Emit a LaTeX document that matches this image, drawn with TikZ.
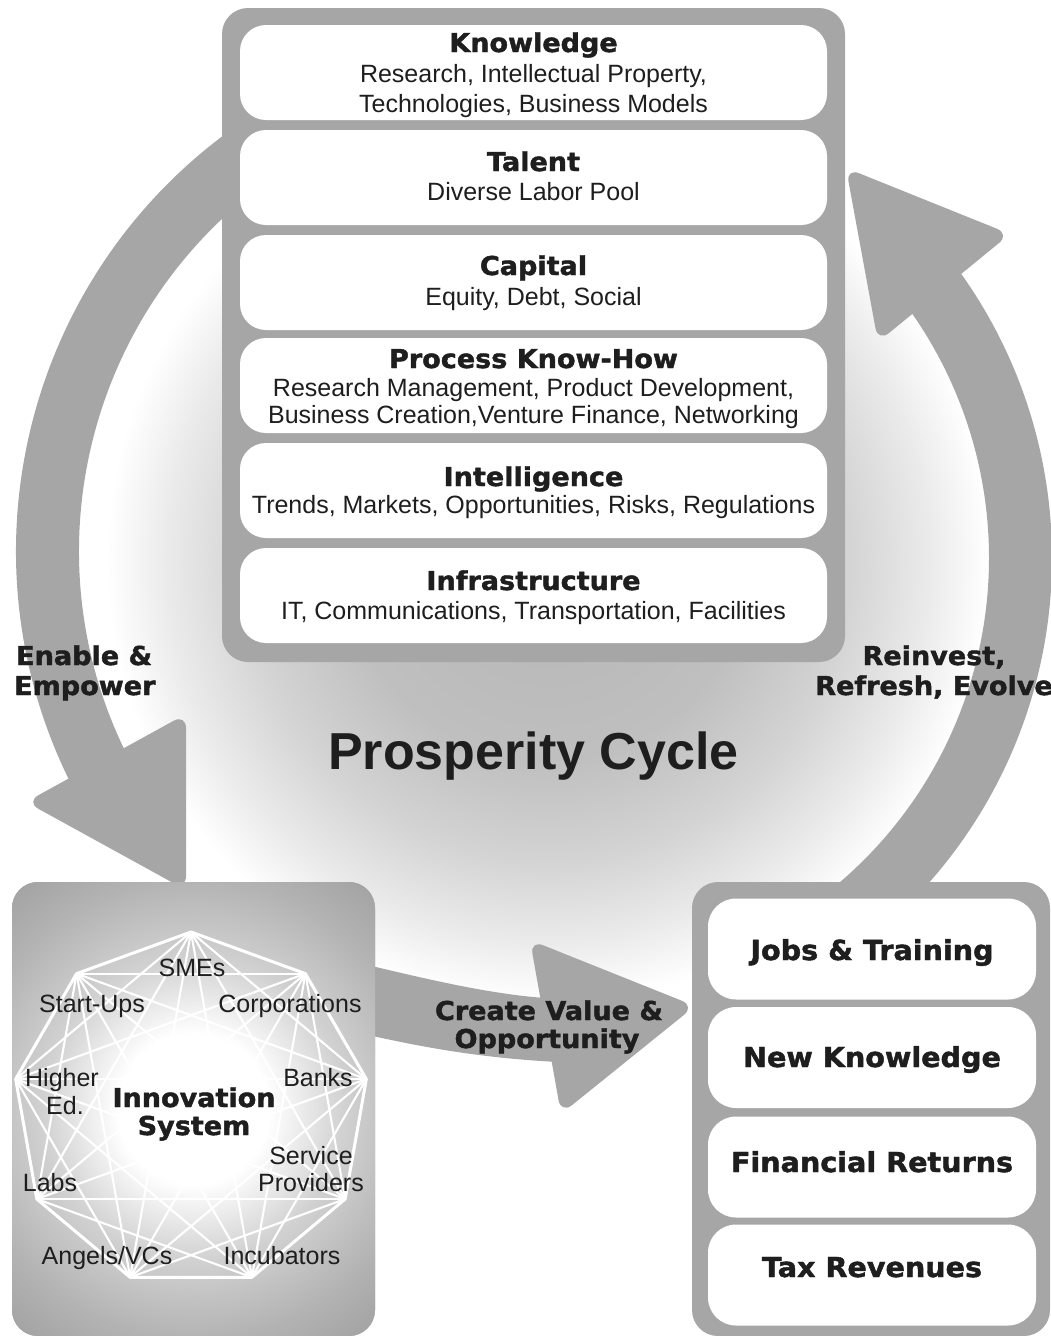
\documentclass[tikz,border=0pt]{standalone}
\usepackage{fontspec}
\setmainfont{Liberation Sans}
\newfontfamily\heavyfont{DejaVu Sans}[FakeStretch=1.04, BoldFeatures={FakeBold=1.6}]
\usetikzlibrary{calc}
\definecolor{ag}{HTML}{A6A6A6}
\definecolor{ink}{HTML}{1E1E1E}
\pgfdeclareradialshading{bgglow}{\pgfpoint{0bp}{0bp}}{color(0bp)=(black!29); color(200bp)=(black!25); color(300bp)=(black!17); color(380bp)=(black!8); color(440bp)=(white); color(460bp)=(white)}
\pgfdeclareradialshading{innoglow}{\pgfpoint{0bp}{0bp}}{color(0bp)=(white); color(75bp)=(white); color(150bp)=(black!18); color(230bp)=(black!30); color(300bp)=(black!38)}
\begin{document}
\begin{tikzpicture}[x=1pt,y=-1pt,
  txt/.style={text=ink, inner sep=0pt, anchor=base, font=\fontsize{25}{30}\selectfont},
  hd/.style={text=ink, inner sep=0pt, anchor=base, font=\heavyfont\bfseries\fontsize{26}{30}\selectfont},
  arrowlbl/.style={hd, font=\heavyfont\bfseries\fontsize{26}{30}\selectfont},
  reslbl/.style={hd, font=\heavyfont\bfseries\fontsize{27.5}{30}\selectfont},
  frame/.style={fill=ag, rounded corners=26pt, inner sep=0pt, draw=none},
  cell/.style={fill=white, rounded corners=26pt, inner sep=0pt, draw=none, minimum width=587pt, minimum height=95pt},
  rcell/.style={fill=white, rounded corners=28pt, inner sep=0pt, draw=none, minimum width=328pt, minimum height=101pt},
  band/.style={fill=ag},
  head/.style={fill=ag, rounded corners=14pt},
  web/.style={white, line width=2.1pt},
  rim/.style={white, line width=3pt, line join=round},
]
\useasboundingbox (0,0) rectangle (1051,1336);

% background glow
\node[inner sep=0pt] (glow) at (548,560) {\pgfuseshading{bgglow}};

% left arrow (Enable & Empower)
\fill[band] ($(536,551)+(-125:520)$) arc[start angle=-125, end angle=-210, radius=520]
  -- ($(536,551)+(-210:457)$) arc[start angle=-210, end angle=-125, radius=457] -- cycle;
\fill[head] (26,802) -- (186,714) -- (186,890) -- cycle;

% right arrow (Reinvest)
\fill[band] ($(562,558)+(-38:490)$) arc[start angle=-38, end angle=55, radius=490]
  -- ($(562,558)+(55:427)$) arc[start angle=55, end angle=-38, radius=427] -- cycle;
\fill[head] (846,168) -- (1010,234) -- (878,342) -- cycle;

% bottom arrow (Create Value)
\fill[band] (355,962) .. controls (430,980) and (490,994) .. (545,998)
  -- (558,1062) .. controls (480,1058) and (420,1047) .. (355,1032) -- cycle;
\fill[head] (530,940) -- (695,1006) -- (561,1114) -- cycle;

% top frame and cells
\node[frame, minimum width=623pt, minimum height=654pt] (topframe) at (533.5,335) {};
\node[cell] (c1) at (533.5,72.5) {};
\node[cell] (c2) at (533.5,177.5) {};
\node[cell] (c3) at (533.5,282.5) {};
\node[cell] (c4) at (533.5,385.5) {};
\node[cell] (c5) at (533.5,490.5) {};
\node[cell] (c6) at (533.5,595.5) {};

\node[hd] (kt) at (533.5,52) {Knowledge};
\node[txt] (kb1) at (533.5,82) {Research, Intellectual Property,};
\node[txt] (kb2) at (533.5,112) {Technologies, Business Models};
\node[hd] (tt) at (533.5,171) {Talent};
\node[txt] (tb) at (533.5,200) {Diverse Labor Pool};
\node[hd] (ct) at (533.5,275) {Capital};
\node[txt] (cb) at (533.5,305) {Equity, Debt, Social};
\node[hd] (pt) at (533.5,368) {Process Know-How};
\node[txt] (pb1) at (533.5,396) {Research Management, Product Development,};
\node[txt] (pb2) at (533.5,423) {Business Creation,Venture Finance, Networking};
\node[hd] (itl) at (533.5,486) {Intelligence};
\node[txt] (ib) at (533.5,513) {Trends, Markets, Opportunities, Risks, Regulations};
\node[hd] (ft) at (533.5,590) {Infrastructure};
\node[txt] (fb) at (533.5,619) {IT, Communications, Transportation, Facilities};

% title
\node[text=ink, inner sep=0pt, anchor=base, font=\bfseries\fontsize{52}{60}\selectfont] (title) at (533.5,769) {Prosperity Cycle};

% arrow labels
\node[arrowlbl, anchor=base west] (en1) at (16,665) {Enable \&};
\node[arrowlbl, anchor=base west] (en2) at (14,695) {Empower};
\node[arrowlbl] (rv1) at (934,665) {Reinvest,};
\node[arrowlbl] (rv2) at (934,695) {Refresh, Evolve};

% innovation system box
\node[frame, minimum width=363pt, minimum height=454pt,
  path picture={\node[inner sep=0pt] (innoglow) at (path picture bounding box.center) {\pgfuseshading{innoglow}};}] (inno) at (193.5,1109) {};
\foreach \i in {0,...,8} \coordinate (v\i) at ($(191,1110)+(-90+40*\i:178)$);
\foreach \i in {0,...,8} {\foreach \j in {0,...,8} {\ifnum\i<\j \draw[web] (v\i) -- (v\j); \fi}}
\draw[rim] (v0) -- (v1) -- (v2) -- (v3) -- (v4) -- (v5) -- (v6) -- (v7) -- (v8) -- cycle;

\node[txt] (sme) at (192,976) {SMEs};
\node[txt] (stu) at (92,1012) {Start-Ups};
\node[txt] (cor) at (290,1012) {Corporations};
\node[txt] (hig) at (62,1086) {Higher};
\node[txt] (edu) at (65,1114) {Ed.};
\node[txt] (ban) at (318,1086) {Banks};
\node[txt] (ser) at (311,1164) {Service};
\node[txt] (pro) at (311,1191) {Providers};
\node[txt] (lab) at (50,1191) {Labs};
\node[txt] (ang) at (107,1264) {Angels/VCs};
\node[txt] (inc) at (282,1264) {Incubators};
\node[hd] (is1) at (194,1107) {Innovation};
\node[hd] (is2) at (194,1135) {System};

% create value label
\node[arrowlbl] (cv1) at (549,1020) {Create Value \&};
\node[arrowlbl] (cv2) at (547,1048) {Opportunity};

% results box
\node[frame, minimum width=358pt, minimum height=454pt] (res) at (871,1109) {};
\node[rcell] (r1) at (872,949) {};
\node[rcell] (r2) at (872,1057.5) {};
\node[rcell] (r3) at (872,1167) {};
\node[rcell] (r4) at (872,1275) {};
\node[reslbl] (jobs) at (872,960) {Jobs \& Training};
\node[reslbl] (newk) at (872,1067) {New Knowledge};
\node[reslbl] (fin) at (872,1172) {Financial Returns};
\node[reslbl] (tax) at (872,1277) {Tax Revenues};
\end{tikzpicture}
\end{document}
